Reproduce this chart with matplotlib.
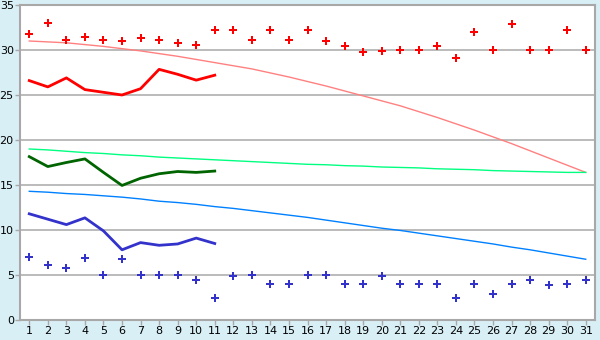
import matplotlib
matplotlib.use('Agg')
import matplotlib.pyplot as plt

# days of the month
days = list(range(1, 32))

# daily max (markers) and the curve for the first 11 days
max_points = [31.8, 33.0, 31.1, 31.4, 31.1, 31.0, 31.3, 31.1, 30.8, 30.6,
              32.2, 32.2, 31.1, 32.2, 31.1, 32.2, 31.0, 30.4, 29.8, 29.9,
              30.0, 30.0, 30.5, 29.1, 32.0, 30.0, 32.9, 30.0, 30.0, 32.2, 30.0]
max_line = [26.6, 25.9, 26.9, 25.6, 25.3, 25.0, 25.7, 27.85, 27.3, 26.65, 27.2]
max_normal = [31.0, 30.9, 30.8, 30.6, 30.4, 30.15, 29.9, 29.6, 29.3, 28.95,
              28.6, 28.25, 27.9, 27.45, 27.0, 26.5, 26.0, 25.45, 24.9, 24.35,
              23.8, 23.15, 22.5, 21.8, 21.1, 20.35, 19.6, 18.8, 18.0, 17.2, 16.4]

# mean
mean_line = [18.15, 17.05, 17.5, 17.9, 16.4, 14.95, 15.75, 16.25, 16.5, 16.4, 16.55]
mean_normal = [19.0, 18.9, 18.75, 18.6, 18.5, 18.35, 18.25, 18.1, 18.0, 17.9,
               17.8, 17.7, 17.6, 17.5, 17.4, 17.3, 17.25, 17.15, 17.1, 17.0,
               16.95, 16.9, 16.8, 16.75, 16.7, 16.6, 16.55, 16.5, 16.45, 16.4, 16.4]

# min
min_points = [7.0, 6.1, 5.75, 6.9, 5.0, 6.8, 5.0, 5.0, 5.0, 4.4,
              2.4, 4.9, 5.0, 4.0, 4.0, 5.0, 5.0, 4.0, 4.0, 4.9,
              4.0, 4.0, 4.0, 2.4, 4.0, 2.9, 4.0, 4.4, 3.9, 4.0, 4.4]
min_line = [11.8, 11.2, 10.6, 11.35, 9.9, 7.8, 8.6, 8.3, 8.45, 9.1, 8.5]
min_normal = [14.3, 14.2, 14.05, 13.95, 13.8, 13.65, 13.45, 13.2, 13.05, 12.85,
              12.6, 12.4, 12.15, 11.9, 11.65, 11.4, 11.1, 10.8, 10.5, 10.2,
              9.95, 9.65, 9.35, 9.05, 8.75, 8.45, 8.1, 7.8, 7.45, 7.1, 6.75]

yticks = [0, 5, 10, 15, 20, 25, 30, 35]

fig = plt.figure(figsize=(6, 3.4), dpi=100)
fig.patch.set_facecolor('#D9EFF6')
ax = fig.add_axes([20 / 600, 1 - 320 / 340, 575 / 600, 315 / 340])
ax.set_facecolor('white')

# gridlines
for y in yticks[1:-1]:
    ax.axhline(y, color='#A8A8A8', lw=1.1, zorder=1)

ax.plot(days, max_normal, color='#FF8080', lw=1, zorder=2)
ax.plot(days, mean_normal, color='#00FF80', lw=1, zorder=2)
ax.plot(days, min_normal, color='#0080FF', lw=1, zorder=2)

ax.plot(days[:11], max_line, color='#FF0000', lw=2, zorder=3)
ax.plot(days[:11], mean_line, color='#006400', lw=2, zorder=3)
ax.plot(days[:11], min_line, color='#3333CC', lw=2, zorder=3)

ax.plot(days, max_points, ls='none', marker='P', ms=6, color='#FF0000',
        markeredgewidth=0, zorder=4)
ax.plot(days, min_points, ls='none', marker='P', ms=6, color='#3333CC',
        markeredgewidth=0, zorder=4)

ax.set_xlim(0.5, 31.5)
ax.set_ylim(0, 35)
ax.set_xticks(days)
ax.set_yticks(yticks)
ax.tick_params(axis='both', direction='out', length=3.5, width=1,
               color='#A8A8A8', labelsize=8, pad=1, labelcolor='black')

for side in ['left', 'bottom', 'top', 'right']:
    ax.spines[side].set_color('#A8A8A8')
    ax.spines[side].set_linewidth(1.5)

fig.savefig('out.png', dpi=100, facecolor=fig.get_facecolor())
